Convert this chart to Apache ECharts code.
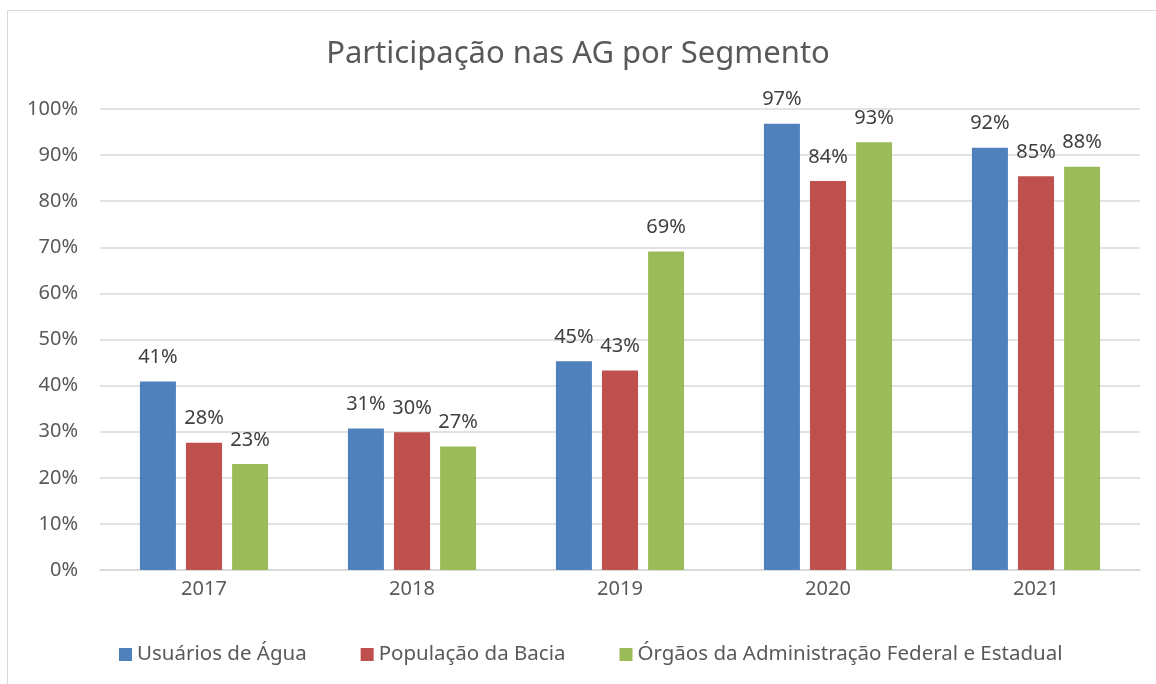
<!DOCTYPE html>
<html><head><meta charset="utf-8">
<script src="https://cdn.jsdelivr.net/npm/echarts@6/dist/echarts.min.js"></script>
<style>
html,body{margin:0;padding:0;background:#fff;}
#frame{position:absolute;left:7px;top:10px;width:1160px;height:690px;border:1.5px solid #d9d9d9;box-sizing:border-box;}
#chart{position:absolute;left:0;top:0;width:1156px;height:684px;}
</style></head>
<body>
<div id="frame"></div>
<div id="chart"></div>
<script>
const categories = ['2017', '2018', '2019', '2020', '2021'];
const usuarios = [40.9, 30.7, 45.3, 96.8, 91.6];
const populacao = [27.6, 29.9, 43.3, 84.4, 85.4];
const orgaos = [23.0, 26.8, 69.1, 92.8, 87.5];
const seriesNames = ['Usuários de Água', 'População da Bacia', 'Órgãos da Administração Federal e Estadual'];
const colors = ['#4f81bd', '#c0504d', '#9bbb59'];

const FONT = 'Noto Sans';
const chart = echarts.init(document.getElementById('chart'), null, {renderer: 'canvas'});
const label = {
  show: true, position: 'top', distance: 14,
  color: '#404040', fontSize: 20, fontFamily: FONT,
  formatter: p => Math.round(p.value) + '%'
};
function mk(name, data, color) {
  return {
    name, type: 'bar', data, barWidth: 36, barGap: '28%',
    itemStyle: {color}, label
  };
}
chart.setOption({
  animation: false,
  title: {
    text: 'Participação nas AG por Segmento', left: 'center', top: 34,
    textStyle: {fontFamily: FONT, fontSize: 31, fontWeight: 'normal', color: '#595959'}
  },
  legend: {
    bottom: 14, left: 114, itemWidth: 13, itemHeight: 13, itemGap: 54,
    icon: 'rect',
    textStyle: {fontFamily: FONT, fontSize: 20.5, color: '#595959'},
    data: seriesNames
  },
  grid: {left: 100, right: 16, top: 109, bottom: 114, containLabel: false},
  xAxis: {
    type: 'category', data: categories,
    axisLine: {lineStyle: {color: '#d9d9d9', width: 1.5}},
    axisTick: {show: false},
    axisLabel: {color: '#595959', fontSize: 20, fontFamily: FONT, margin: 9}
  },
  yAxis: {
    type: 'value', min: 0, max: 100, interval: 10,
    axisLine: {show: false}, axisTick: {show: false},
    splitLine: {lineStyle: {color: '#d9d9d9', width: 1.5}},
    axisLabel: {color: '#595959', fontSize: 20, fontFamily: FONT, margin: 22, formatter: '{value}%'}
  },
  series: [
    mk(seriesNames[0], usuarios, colors[0]),
    mk(seriesNames[1], populacao, colors[1]),
    mk(seriesNames[2], orgaos, colors[2])
  ]
});
</script>
</body></html>
